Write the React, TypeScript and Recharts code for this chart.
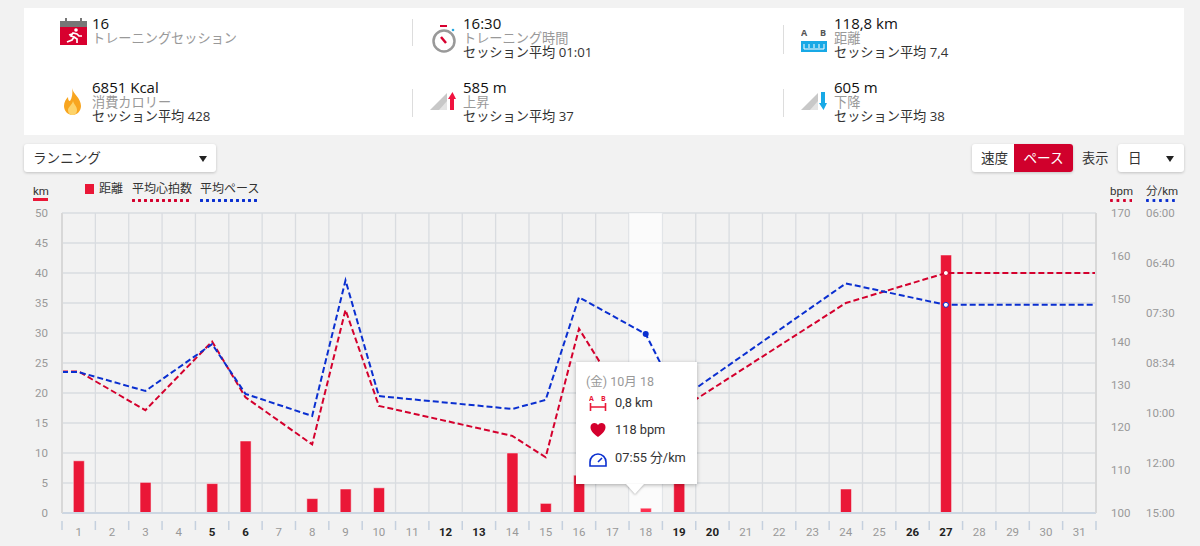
import React from 'react';
import {
  ComposedChart,
  Bar,
  Line,
  Cell,
  XAxis,
  YAxis,
  CartesianGrid,
  ReferenceArea,
  Tooltip,
} from 'recharts';

// Дни месяца с тренировками
const sessionDays = [1, 3, 5, 6, 8, 9, 10, 14, 15, 16, 18, 19, 24, 27];
const distanceKm = [8.7, 5.1, 4.9, 12, 2.4, 4, 4.2, 10, 1.6, 6.3, 0.8, 11.8, 4, 43];
const heartRate = [133, 124, 140, 127, 116, 147.4, 125, 118, 113, 143, 118, 124, 149, 156];
const pace = ['08:48', '09:19', '08:08', '09:24', '10:06', '06:56', '09:28', '09:52', '09:35', '07:13', '07:55', '09:35', '06:59', '07:21'];

const days = [1, 2, 3, 4, 5, 6, 7, 8, 9, 10, 11, 12, 13, 14, 15, 16, 17, 18, 19, 20, 21, 22, 23, 24, 25, 26, 27, 28, 29, 30, 31];
const boldDays = [5, 6, 12, 13, 19, 20, 26, 27];
const kmTicks = [0, 5, 10, 15, 20, 25, 30, 35, 40, 45, 50];
const bpmTicks = [100, 110, 120, 130, 140, 150, 160, 170];
const paceTicks = ['15:00', '12:00', '10:00', '08:34', '07:30', '06:40', '06:00'];

const FONT = '"Open Sans", "Noto Sans CJK JP", sans-serif';
const NUM_FONT = 'Roboto, "Noto Sans CJK JP", sans-serif';
const RED = '#d4002d';
const BLUE = '#0a2fd0';
const BAR = '#ea1737';

const toSeconds = (p: string) => {
  const [m, s] = p.split(':').map(Number);
  return m * 60 + s;
};
// Ось темпа линейна по скорости (км/ч)
const toSpeed = (p: string) => 3600 / toSeconds(p);

const sessionRows = sessionDays.map((day, i) => ({
  day,
  km: distanceKm[i] as number | null,
  bpm: heartRate[i],
  speed: toSpeed(pace[i]),
  pace: pace[i],
}));
const first = sessionRows[0];
const last = sessionRows[sessionRows.length - 1];
// Линии продолжаются до краёв графика
const rows = [
  { ...first, day: 0.5, km: null },
  ...sessionRows,
  { ...last, day: 31.5, km: null },
];
const boundaries = [0.5, ...days.map((d) => d + 0.5)];
const xTicks = [...boundaries, ...days].sort((a, b) => a - b);
const hoverDay = 18;

const DayTick = ({ x, y, payload }: any) => {
  const v = payload.value;
  if (!Number.isInteger(v)) {
    return <line x1={x} x2={x} y1={y} y2={y + 9} stroke="#c5d0de" strokeWidth={1.5} />;
  }
  const bold = boldDays.includes(v);
  return (
    <text x={x} y={y + 15} textAnchor="middle" fontSize={11.5} fontFamily={NUM_FONT} fontWeight={bold ? 700 : 400} fill={bold ? '#222' : '#999'}>
      {v}
    </text>
  );
};

const lineDot = (color: string) => (props: any) => {
  const { cx, cy, payload, key } = props;
  if (payload.day === hoverDay) return <circle key={key} cx={cx} cy={cy} r={3} fill={color} />;
  if (payload.day === 27) return <circle key={key} cx={cx} cy={cy} r={2.5} fill="#fff" stroke={color} strokeWidth={1} />;
  return <g key={key} />;
};

const TooltipBox = ({ active, payload }: any) => {
  if (!active || !payload || !payload.length) return null;
  const row = payload[0].payload;
  const item: React.CSSProperties = { position: 'absolute', left: 39, fontSize: 12.8, color: '#333', whiteSpace: 'nowrap', fontFamily: NUM_FONT };
  return (
    <div style={{ position: 'relative', width: 121, height: 122, background: '#fff', boxShadow: '0 1px 4px rgba(0,0,0,.3)', fontFamily: NUM_FONT }}>
      <div style={{ position: 'absolute', left: 10, top: 9, fontSize: 12.5, color: '#999', whiteSpace: 'nowrap' }}>(金) 10月 {row.day}</div>
      <svg style={{ position: 'absolute', left: 13, top: 32 }} width={18} height={18}>
        <text x={0} y={7} fontSize={7} fontWeight={700} fill={BAR} fontFamily={FONT}>A</text>
        <text x={12} y={7} fontSize={7} fontWeight={700} fill={BAR} fontFamily={FONT}>B</text>
        <path d="M1.5 9v8M16.5 9v8M2 13h14" stroke={BAR} strokeWidth={1.6} fill="none" />
      </svg>
      <div style={{ ...item, top: 33 }}>{String(row.km).replace('.', ',')} km</div>
      <svg style={{ position: 'absolute', left: 14, top: 60 }} width={16} height={16} viewBox="0 0 16 16">
        <path d="M8 15C2 10.500 0.500 8 0.500 5 0.500 2.500 2.500 1 4.500 1 6 1 7.200 1.800 8 3 8.800 1.800 10 1 11.500 1 13.500 1 15.500 2.500 15.500 5 15.500 8 14 10.500 8 15Z" fill={RED} />
      </svg>
      <div style={{ ...item, top: 60 }}>{row.bpm} bpm</div>
      <svg style={{ position: 'absolute', left: 13, top: 90 }} width={18} height={15} viewBox="0 0 18 15">
        <path d="M1 14V10a8 8 0 0 1 16 0v4ZM9 10l4-4" stroke={BLUE} strokeWidth={1.6} fill="none" />
      </svg>
      <div style={{ ...item, top: 85 }}>{row.pace} 分/km</div>
      <div style={{ position: 'absolute', left: 50, top: 122, width: 0, height: 0, borderLeft: '9px solid transparent', borderRight: '9px solid transparent', borderTop: '10px solid #fff', filter: 'drop-shadow(0 1px 1px rgba(0,0,0,.25))' }} />
    </div>
  );
};

// Иконки сводки
const IconCalendar = () => (
  <svg width={28} height={28} viewBox="0 0 28 28">
    <rect x={0} y={3} width={27} height={8} fill="#777" />
    <rect x={5} y={0} width={2} height={5} fill="#777" />
    <rect x={20} y={0} width={2} height={5} fill="#777" />
    <rect x={0} y={9} width={27} height={18} fill="#d8002f" />
    <circle cx={16} cy={12} r={1.8} fill="#fff" />
    <path d="M7 24l5-2 2-3-3-1 2-3 4 1 2 2 3 0M14 19l3 2 0 4M12 16l-3 1" stroke="#fff" strokeWidth={1.7} fill="none" />
  </svg>
);
const IconWatch = () => (
  <svg width={26} height={30} viewBox="0 0 26 30">
    <rect x={8} y={0} width={7} height={2} fill="#d8002f" />
    <circle cx={12} cy={16} r={10.500} fill="none" stroke="#999" strokeWidth={2.5} />
    <path d="M9 12l5 6" stroke="#d8002f" strokeWidth={2.500} />
    <circle cx={21} cy={5} r={1.300} fill="#27a9e1" />
  </svg>
);
const IconRuler = () => (
  <svg width={26} height={26} viewBox="0 0 26 26">
    <text x={0} y={9} fontSize={9} fontWeight={700} fill="#555" fontFamily={FONT}>A</text>
    <text x={19} y={9} fontSize={9} fontWeight={700} fill="#555" fontFamily={FONT}>B</text>
    <rect x={0} y={14} width={26} height={11} fill="#18a9e6" />
    <path d="M3 17v5h20v-5M8 17v4M13 17v4M18 17v4" stroke="#fff" strokeWidth={1} fill="none" />
  </svg>
);
const IconFlame = () => (
  <svg width={17} height={27} viewBox="0 0 17 27">
    <path d="M8 0C9 6 17 10 17 18 17 23 13 27 8.500 27 4 27 0 23 0 18 0 14 2 11 4 9 4 12 5 13 6 13 8 10 9 5 8 0Z" fill="#f8a51f" />
    <path d="M9 13C10 17 13 18 13 22 13 25 11 27 8.500 27 6 27 4 25 4 22 4 19 8 17 9 13Z" fill="#fdd36a" />
  </svg>
);
const IconSlope = ({ color, up }: { color: string; up: boolean }) => (
  <svg width={26} height={18} viewBox="0 0 26 18">
    <path d="M0 18L17 1v17Z" fill="#c8c8c8" />
    <path d="M9 18L17 9v9Z" fill="#e4e4e4" />
    <path d={up ? 'M20 18V7h-2L22.500 0 26 7h-2v11Z' : 'M20 0v11h-2l4.500 7L26 11h-2V0Z'} fill={color} />
  </svg>
);

const stats = [
  { left: 92, top: 16, icon: <IconCalendar />, ix: 60, iy: 18, value: '16', label: 'トレーニングセッション', sub: '' },
  { left: 463, top: 16, icon: <IconWatch />, ix: 432, iy: 25, value: '16:30', label: 'トレーニング時間', sub: 'セッション平均 01:01' },
  { left: 834, top: 16, icon: <IconRuler />, ix: 801, iy: 27, value: '118,8 km', label: '距離', sub: 'セッション平均 7,4' },
  { left: 92, top: 80, icon: <IconFlame />, ix: 64, iy: 88, value: '6851 Kcal', label: '消費カロリー', sub: 'セッション平均 428' },
  { left: 463, top: 80, icon: <IconSlope color="#f0133f" up />, ix: 430, iy: 92, value: '585 m', label: '上昇', sub: 'セッション平均 37' },
  { left: 834, top: 80, icon: <IconSlope color="#18a9e6" up={false} />, ix: 801, iy: 92, value: '605 m', label: '下降', sub: 'セッション平均 38' },
];
const separators = [
  { x: 412, y: 19, h: 27 },
  { x: 412, y: 89, h: 28 },
  { x: 783, y: 25, h: 29 },
  { x: 783, y: 89, h: 28 },
];

const abs = (left: number, top: number, extra?: React.CSSProperties): React.CSSProperties => ({
  position: 'absolute',
  left,
  top,
  whiteSpace: 'nowrap',
  ...extra,
});
const card: React.CSSProperties = { background: '#fff', borderRadius: 3, boxShadow: '0 1px 3px rgba(0,0,0,.2)', height: 28 };
const arrow = (left: number): React.CSSProperties => ({
  position: 'absolute',
  left,
  top: 12,
  width: 0,
  height: 0,
  borderLeft: '4px solid transparent',
  borderRight: '4px solid transparent',
  borderTop: '6px solid #222',
});
// Пунктир из круглых точек, как в легенде
const dotted = (left: number, width: number, color: string, step: number): React.CSSProperties =>
  abs(left, 199, {
    width,
    height: 3,
    backgroundImage: `radial-gradient(circle at 1.5px 1.5px, ${color} 1.4px, transparent 1.6px)`,
    backgroundSize: `${step}px 3px`,
  });

export default function App() {
  return (
    <div style={{ position: 'absolute', left: 0, top: 0, width: 1200, height: 546, overflow: 'hidden', background: '#f2f2f2', fontFamily: FONT, color: '#333' }}>
      <div style={abs(24, 8, { width: 1160, height: 127, background: '#fff' })} />
      {separators.map((s, i) => (
        <div key={i} style={abs(s.x, s.y, { width: 1, height: s.h, background: '#ddd' })} />
      ))}
      {stats.map((s) => (
        <React.Fragment key={s.value}>
          <div style={abs(s.ix, s.iy, { lineHeight: 0 })}>{s.icon}</div>
          <div style={abs(s.left, s.top, { fontSize: 15, lineHeight: '15px', color: '#111' })}>{s.value}</div>
          <div style={abs(s.left, s.top + 15, { fontSize: 13.2, lineHeight: '14px', color: '#999' })}>{s.label}</div>
          <div style={abs(s.left, s.top + 29, { fontSize: 13.2, lineHeight: '14px' })}>{s.sub}</div>
        </React.Fragment>
      ))}

      <div style={abs(24, 144, { ...card, width: 192 })}>
        <span style={abs(9, 0, { fontSize: 13.6, lineHeight: '27px' })}>ランニング</span>
        <span style={arrow(175)} />
      </div>
      <div style={abs(972, 144, { ...card, width: 101, overflow: 'hidden' })}>
        <span style={abs(9, 0, { fontSize: 13.6, lineHeight: '27px' })}>速度</span>
        <span style={abs(42, 0, { width: 59, height: 28, background: '#d0002c', color: '#fff', fontSize: 13.6, lineHeight: '27px', textAlign: 'center' })}>ペース</span>
      </div>
      <span style={abs(1082, 145, { fontSize: 13.2, lineHeight: '27px' })}>表示</span>
      <div style={abs(1118, 144, { ...card, width: 66 })}>
        <span style={abs(10, 0, { fontSize: 13.6, lineHeight: '27px' })}>日</span>
        <span style={arrow(48)} />
      </div>

      <ComposedChart
        width={1200}
        height={546}
        data={rows}
        margin={{ top: 213, right: 0, bottom: 0, left: 0 }}
        barSize={11}
        style={{ position: 'absolute', left: 0, top: 0 }}
      >
        <CartesianGrid stroke="#d9dce0" strokeWidth={1.3} verticalValues={boundaries} horizontalValues={kmTicks} yAxisId="km" />
        <XAxis
          dataKey="day"
          type="number"
          domain={[0.5, 31.5]}
          ticks={xTicks}
          interval={0}
          height={33}
          tick={<DayTick />}
          tickLine={false}
          stroke="#ccd6e2"
          strokeWidth={2}
        />
        <YAxis yAxisId="km" width={62} domain={[0, 50]} ticks={kmTicks} interval={0} tickSize={0} tickMargin={14} axisLine={{ stroke: '#d8d8d8', strokeWidth: 2 }} tick={{ fill: '#999', fontSize: 11.5, fontFamily: NUM_FONT }} />
        <YAxis yAxisId="bpm" orientation="right" width={40} domain={[100, 170]} ticks={bpmTicks} interval={0} tickSize={0} tickMargin={15} axisLine={{ stroke: '#d8d8d8', strokeWidth: 2 }} tick={{ fill: '#999', fontSize: 11.5, fontFamily: NUM_FONT }} />
        <YAxis
          yAxisId="speed"
          orientation="right"
          width={64}
          domain={[4, 10]}
          ticks={paceTicks.map(toSpeed)}
          interval={0}
          tickSize={0}
          tickMargin={10}
          axisLine={false}
          tickFormatter={(v: number) => paceTicks[paceTicks.map(toSpeed).indexOf(v)]}
          tick={{ fill: '#999', fontSize: 11.5, fontFamily: NUM_FONT }}
        />
        <ReferenceArea yAxisId="km" x1={hoverDay - 0.5} x2={hoverDay + 0.5} fill="#fff" fillOpacity={0.65} stroke="none" />
        <Bar yAxisId="km" dataKey="km" fill={BAR} stroke="#f8f8f8" strokeWidth={0.5} isAnimationActive={false}>
          {rows.map((r) => (
            <Cell key={r.day} fill={r.day === hoverDay ? '#ff3050' : BAR} />
          ))}
        </Bar>
        <Line yAxisId="bpm" dataKey="bpm" stroke={RED} strokeWidth={2} strokeDasharray="6 3" dot={lineDot(RED)} activeDot={false} isAnimationActive={false} />
        <Line yAxisId="speed" dataKey="speed" stroke={BLUE} strokeWidth={2} strokeDasharray="6 3" dot={lineDot(BLUE)} activeDot={false} isAnimationActive={false} />
        <Tooltip
          active
          defaultIndex={rows.findIndex((r) => r.day === hoverDay)}
          position={{ x: 576, y: 362 }}
          cursor={false}
          isAnimationActive={false}
          content={<TooltipBox />}
        />
      </ComposedChart>

      <span style={abs(33, 183, { fontSize: 11.5, lineHeight: '16px', fontFamily: NUM_FONT })}>km</span>
      <div style={abs(33, 198, { width: 15, height: 3, background: BAR })} />
      <div style={abs(85, 184, { width: 9, height: 10, background: BAR })} />
      <span style={abs(99, 181, { fontSize: 12, lineHeight: '16px' })}>距離</span>
      <span style={abs(132, 181, { fontSize: 12, lineHeight: '16px' })}>平均心拍数</span>
      <div style={dotted(132, 58, RED, 6)} />
      <span style={abs(200, 181, { fontSize: 12, lineHeight: '16px' })}>平均ペース</span>
      <div style={dotted(200, 59, BLUE, 6)} />
      <span style={abs(1110, 183, { fontSize: 11.5, lineHeight: '16px', fontFamily: NUM_FONT })}>bpm</span>
      <div style={dotted(1110, 22, RED, 6.5)} />
      <span style={abs(1146, 183, { fontSize: 11.5, lineHeight: '16px', fontFamily: NUM_FONT })}>分/km</span>
      <div style={dotted(1146, 29, BLUE, 6.5)} />
    </div>
  );
}
